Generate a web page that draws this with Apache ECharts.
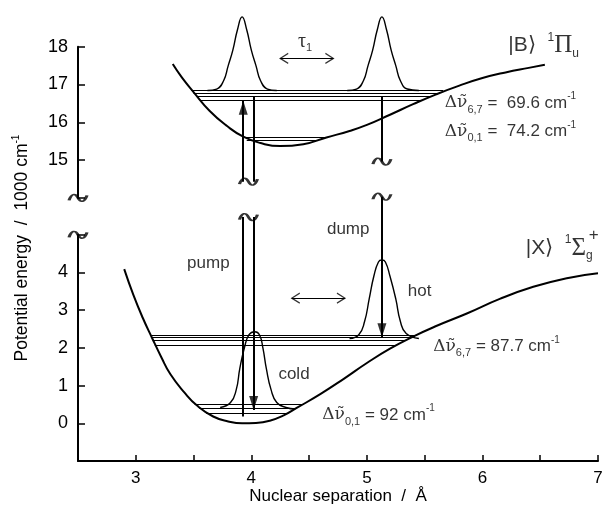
<!DOCTYPE html>
<html><head><meta charset="utf-8">
<script src="https://cdn.jsdelivr.net/npm/echarts@6/dist/echarts.min.js"></script>
<style>html,body{margin:0;padding:0;background:#fff}#c{width:602px;height:511px}</style>
</head><body><div id="c"></div><script>
// ---- data ----
// ground state |X> potential (lower panel, 1000 cm-1)
const xPotX = [2.90, 2.98, 3.06, 3.14, 3.22, 3.30, 3.42, 3.53, 3.67, 3.80, 3.92, 4.04, 4.16, 4.28, 4.40, 4.60, 4.80, 5.00, 5.20, 5.40, 5.60, 5.87, 6.15, 6.44, 6.73, 7.00];
const xPotY = [4.09, 3.40, 2.80, 2.27, 1.76, 1.30, 0.82, 0.47, 0.18, 0.05, 0.00, 0.01, 0.07, 0.21, 0.42, 0.78, 1.18, 1.60, 1.98, 2.30, 2.58, 2.92, 3.30, 3.62, 3.85, 3.98];
// excited state |B> potential (upper panel)
const bPotX = [3.32, 3.40, 3.50, 3.64, 3.79, 3.93, 4.08, 4.25, 4.45, 4.65, 4.85, 5.00, 5.20, 5.40, 5.60, 5.80, 6.00, 6.20, 6.40, 6.54];
const bPotY = [17.54, 17.18, 16.80, 16.30, 15.90, 15.62, 15.45, 15.37, 15.42, 15.60, 15.77, 15.93, 16.20, 16.48, 16.74, 16.97, 17.17, 17.32, 17.44, 17.52];
// vibrational levels
const bLevelsY  = [16.84, 16.77, 16.68, 16.59, 15.60, 15.53];
const bLevelsX0 = [3.48, 3.50, 3.53, 3.56, 3.92, 3.96];
const bLevelsX1 = [5.66, 5.61, 5.55, 5.48, 4.65, 4.58];
const xLevelsY  = [2.33, 2.27, 2.21, 2.08, 0.51, 0.39, 0.27];
const xLevelsX0 = [3.135, 3.14, 3.15, 3.165, 3.51, 3.55, 3.61];
const xLevelsX1 = [5.42, 5.38, 5.34, 5.26, 4.45, 4.38, 4.32];
// wave packets
const bPacketLX = [3.62, 3.70, 3.76, 3.80, 3.84, 3.88, 3.92, 3.96, 4.00, 4.04, 4.08, 4.14, 4.22];
const bPacketRX = [4.83, 4.91, 4.97, 5.01, 5.05, 5.09, 5.13, 5.17, 5.21, 5.25, 5.29, 5.35, 5.45];
const bPacketY  = [16.84, 16.88, 17.10, 17.50, 17.91, 18.45, 18.79, 18.45, 17.91, 17.50, 17.10, 16.88, 16.84];
const coldX = [3.73, 3.82, 3.87, 3.90, 3.94, 3.98, 4.03, 4.07, 4.10, 4.13, 4.17, 4.22, 4.30, 4.38];
const coldY = [0.42, 0.55, 0.90, 1.45, 2.00, 2.35, 2.43, 2.35, 2.00, 1.45, 0.90, 0.55, 0.42, 0.38];
const hotX = [4.85, 4.93, 4.98, 5.02, 5.06, 5.10, 5.13, 5.16, 5.20, 5.25, 5.29, 5.34, 5.45];
const hotY = [2.25, 2.35, 2.70, 3.30, 3.90, 4.28, 4.33, 4.28, 3.90, 3.30, 2.70, 2.38, 2.25];
// vertical transitions: pump, cold return, dump
const arrowX = [3.93, 4.02, 5.13];
const arrowUpperFrom = [14.43, 16.68, 16.68];
const arrowUpperTo   = [16.57, 14.43, 14.96];
const arrowLowerFrom = [0.18, 5.47, 6.01];
const arrowLowerTo   = [5.47, 0.35, 2.28];
// horizontal double arrows (tau1 upper, lower)
const dblArrowY  = [17.69, 3.32];
const dblArrowX0 = [4.25, 4.35];
const dblArrowX1 = [4.71, 4.81];
// axis ticks
const xTicks = [3, 4, 5, 6, 7];
const yTicksTop = [15, 16, 17, 18];
const yTicksBottom = [0, 1, 2, 3, 4];

// ---- chart ----
const BLACK = '#000';
const SANS = 'Liberation Sans, Arial, sans-serif';
const SERIF = 'Liberation Serif, Times New Roman, serif';
const DSERIF = 'DejaVu Serif, serif';
const TRI = 'path://M5,0 L10,16 L0,16 Z';
const CHEV = 'path://M0,10 L5,0 L10,10';
const TILDE = 'path://M0,6 C3,0 7,0 10,4 C13,8 17,8 20,2';
const zip = (xs, ys) => xs.map((x, i) => [x, ys[i]]);

function lineSeries(g, data, width) {
  return {type: 'line', xAxisIndex: g, yAxisIndex: g, data: data, smooth: true, symbol: 'none', showSymbol: false,
    clip: false, silent: true, lineStyle: {color: BLACK, width: width}, emphasis: {disabled: true}, z: 3};
}
function segSeries(g, segs, width) {
  return {type: 'lines', coordinateSystem: 'cartesian2d', xAxisIndex: g, yAxisIndex: g, polyline: false, clip: false, silent: true,
    symbol: 'none', lineStyle: {color: BLACK, width: width, opacity: 1}, data: segs.map(s => ({coords: s})), z: 3};
}
function markSeries(g, items, opts) {
  return Object.assign({type: 'scatter', xAxisIndex: g, yAxisIndex: g, clip: false, silent: true, data: items,
    emphasis: {disabled: true}, z: 5}, opts);
}

const levelSegsB = bLevelsY.map((y, i) => [[bLevelsX0[i], y], [bLevelsX1[i], y]]);
const levelSegsX = xLevelsY.map((y, i) => [[xLevelsX0[i], y], [xLevelsX1[i], y]]);
const arrowSegsB = arrowX.map((x, i) => [[x, arrowUpperFrom[i]], [x, arrowUpperTo[i]]]);
const arrowSegsX = arrowX.map((x, i) => [[x, arrowLowerFrom[i]], [x, arrowLowerTo[i]]]);

const triStyle = {color: BLACK};
const headsB = [{value: [arrowX[0], arrowUpperTo[0]], symbolRotate: 0, symbolOffset: [0, 7]}];
const headsX = [
  {value: [arrowX[1], arrowLowerTo[1]], symbolRotate: 180, symbolOffset: [0, -7]},
  {value: [arrowX[2], arrowLowerTo[2]], symbolRotate: 180, symbolOffset: [0, -7]}
];
const chevItems = g => [
  {value: [dblArrowX0[g], dblArrowY[g]], symbolRotate: 90, symbolOffset: [4, 0]},
  {value: [dblArrowX1[g], dblArrowY[g]], symbolRotate: -90, symbolOffset: [-4, 0]}
];
const tildeStyle = {color: 'rgba(0,0,0,0)', borderColor: BLACK, borderWidth: 2};

const richBase = {
  t: {fontFamily: SANS, fontSize: 17, color: BLACK, lineHeight: 24},
  d: {fontFamily: DSERIF, fontSize: 17, color: BLACK, lineHeight: 24},
  sub: {fontFamily: SANS, fontSize: 11, color: BLACK, lineHeight: 13, verticalAlign: 'bottom'},
  sup: {fontFamily: SANS, fontSize: 10, color: BLACK, lineHeight: 17, verticalAlign: 'top'},
  big: {fontFamily: SANS, fontSize: 21, color: BLACK, lineHeight: 28},
  gr: {fontFamily: SERIF, fontSize: 25, color: BLACK, lineHeight: 28},
  ssup: {fontFamily: SANS, fontSize: 12, color: BLACK, lineHeight: 20, verticalAlign: 'top'},
  ssub: {fontFamily: SANS, fontSize: 12, color: BLACK, lineHeight: 14, verticalAlign: 'bottom'},
  tau: {fontFamily: SERIF, fontSize: 20, color: BLACK, lineHeight: 24}
};
function lbl(x, y, text) {
  return {value: [x, y], label: {show: true, position: 'right', distance: 0, formatter: text, rich: richBase, color: BLACK}};
}
const labelOpts = {symbol: 'circle', symbolSize: 1, itemStyle: {color: 'rgba(0,0,0,0)'}, z: 6};

const labelsB = [
  lbl(6.22, 18.04, '{big||B\u27E9  }{ssup|1}{gr|\u03A0}{ssub|u}'),
  lbl(5.67, 16.51, '{d|\u0394\u03BD\u0303}{sub|6,7}{t| =  69.6 cm}{sup|-1}'),
  lbl(5.67, 15.75, '{d|\u0394\u03BD\u0303}{sub|0,1}{t| =  74.2 cm}{sup|-1}'),
  lbl(4.40, 18.13, '{tau|\u03C4}{sub|1}')
];
const labelsX = [
  lbl(6.37, 4.65, '{big||X\u27E9  }{ssup|1}{gr|\u03A3}{ssub|g}'),
  lbl(6.915, 4.99, '{t|+}'),
  lbl(5.57, 2.03, '{d|\u0394\u03BD\u0303}{sub|6,7}{t| = 87.7 cm}{sup|-1}'),
  lbl(4.61, 0.22, '{d|\u0394\u03BD\u0303}{sub|0,1}{t| = 92 cm}{sup|-1}'),
  lbl(3.44, 4.24, '{t|pump}'),
  lbl(4.65, 5.15, '{t|dump}'),
  lbl(5.35, 3.49, '{t|hot}'),
  lbl(4.23, 1.31, '{t|cold}')
];

const axisLbl = {color: BLACK, fontSize: 18, fontFamily: SANS};
const chart = echarts.init(document.getElementById('c'), null, {renderer: 'canvas'});
chart.setOption({
  animation: false,
  backgroundColor: '#fff',
  grid: [
    {left: 78, top: 46.7, width: 520, height: 151.2, containLabel: false, outerBoundsMode: 'none'},
    {left: 78, top: 234.8, width: 520, height: 226.2, containLabel: false, outerBoundsMode: 'none'}
  ],
  xAxis: [
    {type: 'value', gridIndex: 0, min: 2.5, max: 7, show: false},
    {type: 'value', gridIndex: 1, min: 2.5, max: 7, interval: 0.5,
     axisLine: {show: true, onZero: false, lineStyle: {color: BLACK, width: 2}},
     axisTick: {show: true, inside: true, length: 6, lineStyle: {color: BLACK, width: 1.5}},
     axisLabel: {show: true, margin: 9, color: BLACK, fontSize: 17, fontFamily: SANS,
       formatter: v => xTicks.indexOf(Math.round(v * 100) / 100) >= 0 ? String(Math.round(v)) : ''},
     splitLine: {show: false},
     name: 'Nuclear separation  /  \u00C5', nameLocation: 'middle', nameGap: 27,
     nameTextStyle: {color: BLACK, fontSize: 17, fontFamily: SANS}}
  ],
  yAxis: [
    {type: 'value', gridIndex: 0, min: 14, max: 18, interval: 1,
     axisLine: {show: true, onZero: false, lineStyle: {color: BLACK, width: 2}},
     axisTick: {show: true, inside: true, length: 7, lineStyle: {color: BLACK, width: 1.5}},
     axisLabel: Object.assign({margin: 10, formatter: v => yTicksTop.indexOf(v) >= 0 ? String(v) : ''}, axisLbl),
     splitLine: {show: false}},
    {type: 'value', gridIndex: 1, min: -1, max: 5, interval: 1,
     axisLine: {show: true, onZero: false, lineStyle: {color: BLACK, width: 2}},
     axisTick: {show: true, inside: true, length: 7, lineStyle: {color: BLACK, width: 1.5}},
     axisLabel: Object.assign({margin: 10, formatter: v => yTicksBottom.indexOf(v) >= 0 ? String(v) : ''}, axisLbl),
     splitLine: {show: false}}
  ],
  graphic: [{
    type: 'text', x: 22, y: 248, rotation: Math.PI / 2,
    style: {text: '{t|Potential energy  /  1000 cm}{s|-1}', align: 'center', verticalAlign: 'middle',
      rich: {t: {fontFamily: SANS, fontSize: 17.5, fill: BLACK, lineHeight: 22},
             s: {fontFamily: SANS, fontSize: 10, fill: BLACK, lineHeight: 16, verticalAlign: 'top'}}}
  }],
  series: [
    lineSeries(1, zip(xPotX, xPotY), 2),
    lineSeries(0, zip(bPotX, bPotY), 2),
    segSeries(0, levelSegsB, 1.2),
    segSeries(1, levelSegsX, 1.2),
    lineSeries(0, zip(bPacketLX, bPacketY), 1.4),
    lineSeries(0, zip(bPacketRX, bPacketY), 1.4),
    lineSeries(1, zip(coldX, coldY), 1.4),
    lineSeries(1, zip(hotX, hotY), 1.4),
    segSeries(0, arrowSegsB, 2),
    segSeries(1, arrowSegsX, 2),
    segSeries(0, [[[dblArrowX0[0], dblArrowY[0]], [dblArrowX1[0], dblArrowY[0]]]], 1.1),
    segSeries(1, [[[dblArrowX0[1], dblArrowY[1]], [dblArrowX1[1], dblArrowY[1]]]], 1.1),
    markSeries(0, headsB, {symbol: TRI, symbolSize: [9, 14], itemStyle: triStyle}),
    markSeries(1, headsX, {symbol: TRI, symbolSize: [9, 14], itemStyle: triStyle}),
    markSeries(0, chevItems(0), {symbol: CHEV, symbolSize: [10, 8], itemStyle: {color: 'rgba(0,0,0,0)', borderColor: BLACK, borderWidth: 1.2}}),
    markSeries(1, chevItems(1), {symbol: CHEV, symbolSize: [10, 8], itemStyle: {color: 'rgba(0,0,0,0)', borderColor: BLACK, borderWidth: 1.2}}),
    markSeries(0, [[2.5, 14], [(arrowX[0] + arrowX[1]) / 2, arrowUpperTo[1]], [arrowX[2], arrowUpperTo[2]]],
      {symbol: TILDE, symbolSize: [18, 7], itemStyle: tildeStyle}),
    markSeries(1, [[2.5, 5], [(arrowX[0] + arrowX[1]) / 2, arrowLowerFrom[1]], [arrowX[2], arrowLowerFrom[2]]],
      {symbol: TILDE, symbolSize: [18, 7], itemStyle: tildeStyle}),
    markSeries(0, labelsB, labelOpts),
    markSeries(1, labelsX, labelOpts)
  ]
});
</script></body></html>
